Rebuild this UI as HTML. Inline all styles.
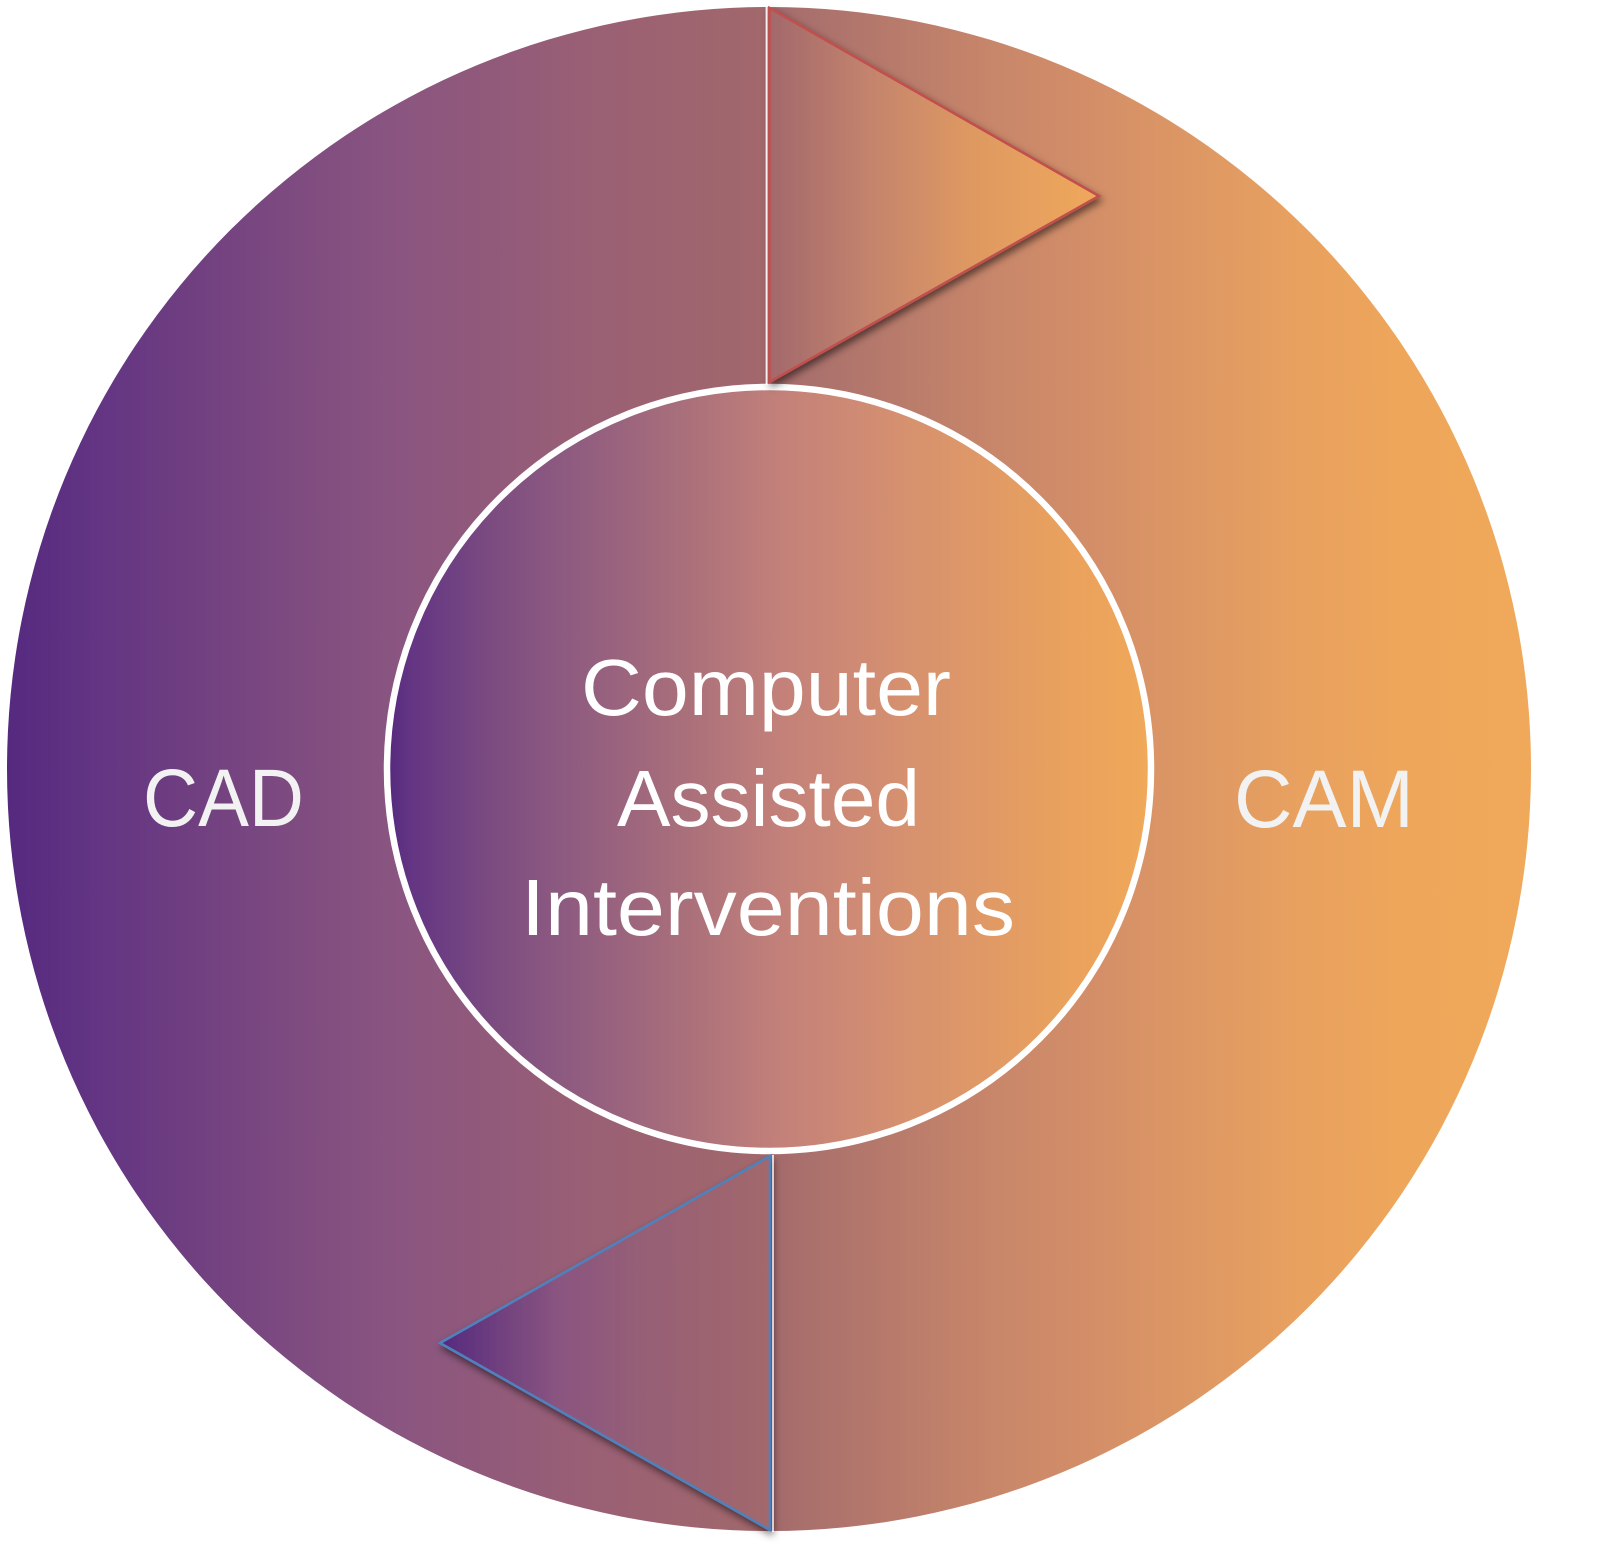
<!DOCTYPE html>
<html>
<head>
<meta charset="utf-8">
<style>
  html, body { margin: 0; padding: 0; background: #ffffff; }
  body { width: 1614px; height: 1554px; overflow: hidden; }
  svg { display: block; }
  text { font-family: "Liberation Sans", "DejaVu Sans", sans-serif; }
</style>
</head>
<body>
<svg width="1614" height="1554" viewBox="0 0 1614 1554" xmlns="http://www.w3.org/2000/svg">
  <defs>
    <linearGradient id="gOuter" gradientUnits="userSpaceOnUse" x1="7" y1="0" x2="1531" y2="0">
      <stop offset="0" stop-color="#55297f"/>
      <stop offset="0.061" stop-color="#633583"/>
      <stop offset="0.127" stop-color="#714080"/>
      <stop offset="0.192" stop-color="#7f4c80"/>
      <stop offset="0.258" stop-color="#8a5580"/>
      <stop offset="0.389" stop-color="#9a6074"/>
      <stop offset="0.5" stop-color="#a2686c"/>
      <stop offset="0.52" stop-color="#a86f6c"/>
      <stop offset="0.652" stop-color="#c9876a"/>
      <stop offset="0.717" stop-color="#d48f68"/>
      <stop offset="0.848" stop-color="#e8a15f"/>
      <stop offset="0.914" stop-color="#eea65b"/>
      <stop offset="1" stop-color="#f0a85a"/>
    </linearGradient>
    <linearGradient id="gInner" gradientUnits="userSpaceOnUse" x1="388" y1="0" x2="1150" y2="0">
      <stop offset="0" stop-color="#55297f"/>
      <stop offset="0.03" stop-color="#633583"/>
      <stop offset="0.15" stop-color="#7e4e80"/>
      <stop offset="0.23" stop-color="#8d5a80"/>
      <stop offset="0.41" stop-color="#ad727a"/>
      <stop offset="0.51" stop-color="#c2807a"/>
      <stop offset="0.67" stop-color="#d59070"/>
      <stop offset="0.87" stop-color="#e8a05e"/>
      <stop offset="1" stop-color="#f0a85a"/>
    </linearGradient>
    <linearGradient id="gTop" gradientUnits="userSpaceOnUse" x1="769" y1="0" x2="1099" y2="0">
      <stop offset="0" stop-color="#a2686c"/>
      <stop offset="0.3" stop-color="#c3836d"/>
      <stop offset="0.6" stop-color="#dd9862"/>
      <stop offset="1" stop-color="#f0a85a"/>
    </linearGradient>
    <linearGradient id="gBot" gradientUnits="userSpaceOnUse" x1="440" y1="0" x2="770" y2="0">
      <stop offset="0" stop-color="#55297f"/>
      <stop offset="0.18" stop-color="#70407f"/>
      <stop offset="0.36" stop-color="#8a5580"/>
      <stop offset="0.64" stop-color="#976075"/>
      <stop offset="1" stop-color="#a2686c"/>
    </linearGradient>
    <filter id="shadow" x="-20%" y="-20%" width="140%" height="140%">
      <feDropShadow dx="2" dy="4" stdDeviation="4" flood-color="#000000" flood-opacity="0.55"/>
    </filter>
  </defs>

  <!-- outer circle -->
  <circle cx="769" cy="769" r="762" fill="url(#gOuter)"/>

  <!-- inner circle -->
  <circle cx="769" cy="769" r="382" fill="url(#gInner)" stroke="#ffffff" stroke-width="6.5"/>

  <!-- top triangle (pointing right) -->
  <polygon points="769.5,8 1099,196 769.5,382" fill="url(#gTop)" stroke="#c0504d" stroke-width="2.6" stroke-linejoin="miter" filter="url(#shadow)"/>

  <!-- bottom triangle (pointing left) -->
  <polygon points="770,1156 770,1530 440,1343" fill="url(#gBot)" stroke="#4f81bd" stroke-width="2.6" stroke-linejoin="miter" filter="url(#shadow)"/>

  <!-- white gap lines -->
  <rect x="765.6" y="5" width="2" height="380" fill="#ffffff" opacity="0.9"/>
  <rect x="772" y="1155" width="2" height="377" fill="#ffffff" opacity="0.75"/>

  <!-- labels -->
  <text x="143" y="826" font-size="82" fill="#f2f2f2" textLength="161" lengthAdjust="spacingAndGlyphs">CAD</text>
  <text x="1234" y="827" font-size="82" fill="#f2f2f2" textLength="180" lengthAdjust="spacingAndGlyphs">CAM</text>

  <text x="581" y="715" font-size="80" fill="#ffffff" textLength="370" lengthAdjust="spacingAndGlyphs">Computer</text>
  <text x="617" y="826" font-size="80" fill="#ffffff" textLength="303" lengthAdjust="spacingAndGlyphs">Assisted</text>
  <text x="521" y="935" font-size="80" fill="#ffffff" textLength="494" lengthAdjust="spacingAndGlyphs">Interventions</text>
</svg>
</body>
</html>
